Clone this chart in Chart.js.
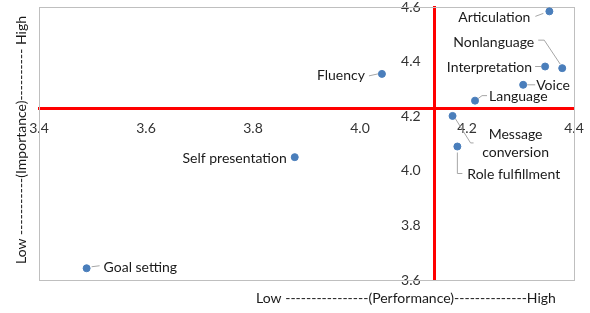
<!DOCTYPE html>
<html>
<head>
<meta charset="utf-8">
<script src="https://cdn.jsdelivr.net/npm/chart.js@4.4.1/dist/chart.umd.min.js"></script>
<style>
  html, body { margin: 0; padding: 0; background: #fff; }
  #wrap { width: 590px; height: 313px; }
</style>
</head>
<body>
<div id="wrap"><canvas id="quadChart"></canvas></div>
<script>
// Importance-performance data
const items = ['Articulation', 'Nonlanguage', 'Interpretation', 'Voice', 'Language',
    'Fluency', 'Message conversion', 'Role fulfillment', 'Self presentation', 'Goal setting'];
const performance = [4.354, 4.378, 4.346, 4.305, 4.215, 4.041, 4.173, 4.182, 3.878, 3.489];
const importance  = [4.584, 4.376, 4.382, 4.315, 4.257, 4.355, 4.201, 4.089, 4.050, 3.643];
const perfMean = 4.14;
const impMean = 4.228;
const xTicks = [3.4, 3.6, 3.8, 4.0, 4.2, 4.4];
const yTicks = [3.6, 3.8, 4.0, 4.2, 4.4, 4.6];

const FONT = 'Lato, "Open Sans", sans-serif';

// where each label sits relative to its point, plus leader line
const labelStyle = {
    'Articulation':       { dx: -19, dy: 6,  align: 'right',  leader: [[-14, 5], [-6, 2]] },
    'Nonlanguage':        { dx: -28, dy: -26, align: 'right', leader: [[-24, -28], [-18, -28], [-2, -4]] },
    'Interpretation':     { dx: -13, dy: 1,  align: 'right',  leader: [[-10, 0], [-4, 0]] },
    'Voice':              { dx: 13,  dy: 1,  align: 'left',   leader: [[4, 0], [12, 0]] },
    'Language':           { dx: 14,  dy: -4, align: 'left',   leader: [[3, -2], [7, -5], [12, -5]] },
    'Fluency':            { dx: -17, dy: 2,  align: 'right',  leader: [[-13, 2], [-4, 0]] },
    'Message conversion': { dx: 63,  dy: 19, align: 'center', lines: ['Message', 'conversion'], leader: [[3, 3], [18, 27], [21, 27]] },
    'Role fulfillment':   { dx: 10,  dy: 28, align: 'left',   leader: [[0, 6], [0, 27], [5, 27]] },
    'Self presentation':  { dx: -8,  dy: 1,  align: 'right' },
    'Goal setting':       { dx: 17,  dy: -1, align: 'left',   leader: [[5, -1.5], [13, -2.5]] }
};

const pointLabels = {
    id: 'pointLabels',
    afterDatasetsDraw(chart) {
        const ctx = chart.ctx;
        const meta = chart.getDatasetMeta(0);
        ctx.save();
        ctx.font = '14px ' + FONT;
        ctx.textBaseline = 'middle';
        meta.data.forEach((pt, i) => {
            const s = labelStyle[items[i]];
            if (!s) return;
            if (s.leader) {
                ctx.strokeStyle = '#a6a6a6';
                ctx.lineWidth = 1;
                ctx.beginPath();
                s.leader.forEach((p, k) => {
                    const fn = k === 0 ? 'moveTo' : 'lineTo';
                    ctx[fn](pt.x + p[0], pt.y + p[1]);
                });
                ctx.stroke();
            }
            ctx.fillStyle = '#1a1a1a';
            ctx.textAlign = s.align;
            const lines = s.lines || [items[i]];
            lines.forEach((t, k) => {
                ctx.fillText(t, pt.x + s.dx, pt.y + s.dy + k * 17.5);
            });
        });
        ctx.restore();
    }
};

const frameAndTitles = {
    id: 'frameAndTitles',
    beforeDatasetsDraw(chart) {
        const { ctx, chartArea: a } = chart;
        ctx.save();
        ctx.strokeStyle = '#bfbfbf';
        ctx.lineWidth = 1;
        ctx.strokeRect(Math.round(a.left) + 0.5, Math.round(a.top) + 0.5,
            Math.round(a.right - a.left), Math.round(a.bottom - a.top));
        ctx.restore();
    },
    afterDraw(chart) {
        const ctx = chart.ctx;
        ctx.save();
        ctx.font = '14px ' + FONT;
        ctx.fillStyle = '#1a1a1a';
        ctx.textAlign = 'center';
        ctx.textBaseline = 'middle';
        ctx.fillText('Low ----------------(Performance)--------------High', 406, 298);
        ctx.translate(21, 140);
        ctx.rotate(-Math.PI / 2);
        ctx.fillText('Low -----------(Importance)---------- High', 0, 0);
        ctx.restore();
    }
};

new Chart(document.getElementById('quadChart'), {
    type: 'scatter',
    data: {
        labels: items,
        datasets: [{
            data: performance.map((x, i) => ({ x: x, y: importance[i] })),
            backgroundColor: '#4a7ebb',
            borderColor: '#4a7ebb',
            pointRadius: 3.5,
            pointHoverRadius: 3.5
        }]
    },
    options: {
        responsive: true,
        maintainAspectRatio: false,
        animation: false,
        layout: { padding: { left: 39, right: 16, top: 7, bottom: 33 } },
        plugins: { legend: { display: false }, tooltip: { enabled: false } },
        scales: {
            x: {
                type: 'linear',
                min: 3.4, max: 4.4,
                position: { y: impMean },
                afterFit: s => { s.height = 0; s.paddingLeft = 0; s.paddingRight = 0; },
                afterBuildTicks: s => { s.ticks = xTicks.map(v => ({ value: v })); },
                ticks: {
                    color: '#333333', font: { size: 14, family: FONT }, padding: 12,
                    maxRotation: 0, autoSkip: false,
                    callback: v => v.toFixed(1)
                },
                grid: { color: 'rgba(0,0,0,0)', drawOnChartArea: false, drawTicks: false },
                border: { color: '#ff0000', width: 3 }
            },
            y: {
                type: 'linear',
                min: 3.6, max: 4.6,
                position: { x: perfMean },
                afterFit: s => { s.width = 0; s.paddingTop = 0; s.paddingBottom = 0; },
                afterBuildTicks: s => { s.ticks = yTicks.map(v => ({ value: v })); },
                ticks: {
                    color: '#333333', font: { size: 14, family: FONT }, padding: 10,
                    autoSkip: false,
                    callback: v => v.toFixed(1) + '    '
                },
                grid: { color: 'rgba(0,0,0,0)', drawOnChartArea: false, drawTicks: false },
                border: { color: '#ff0000', width: 3 }
            }
        }
    },
    plugins: [frameAndTitles, pointLabels]
});
</script>
</body>
</html>
